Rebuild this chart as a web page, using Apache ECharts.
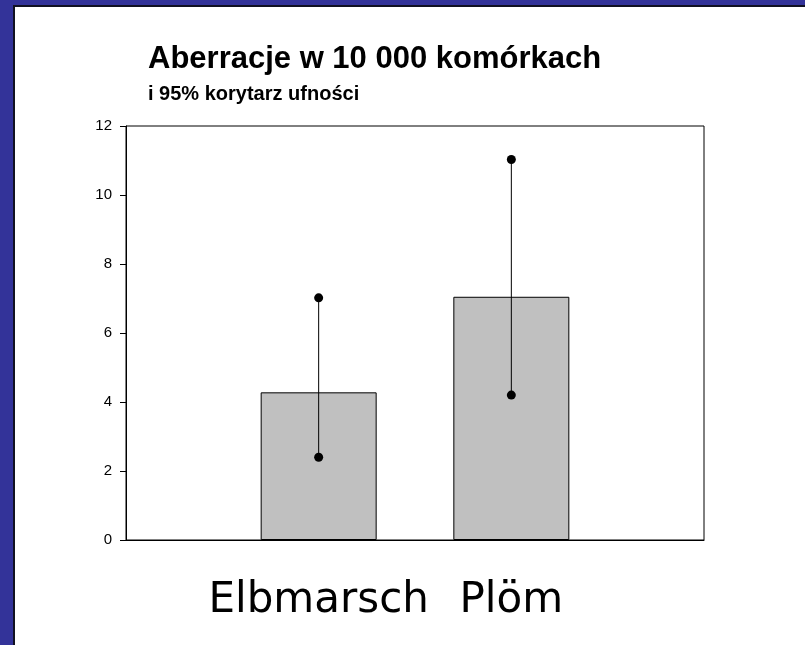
<!DOCTYPE html>
<html>
<head>
<meta charset="utf-8">
<script src="https://cdn.jsdelivr.net/npm/echarts@6/dist/echarts.min.js"></script>
<style>
  html, body { margin: 0; padding: 0; background: #333399; }
  #frame {
    position: absolute;
    left: 13px;
    top: 5px;
    border-left: 2px solid #111122;
    border-top: 2px solid #111122;
    background: #ffffff;
  }
  #chart { width: 790px; height: 638px; }
</style>
</head>
<body>
<div id="frame"><div id="chart"></div></div>
<script>
"use strict";

// empty slots at both ends keep the two bars at 1/3 and 2/3 of the axis
var categories = ["", "Elbmarsch", "Plöm", ""];
var meanValues = [null, 4.28, 7.05, null];
var ciLow = [null, 2.4, 4.2, null];
var ciHigh = [null, 7.02, 11.03, null];
var yTicks = [0, 2, 4, 6, 8, 10, 12];

var chart = echarts.init(document.getElementById("chart"));

var errorData = [];
for (var i = 0; i < categories.length; i++) {
  if (ciLow[i] != null) {
    errorData.push([i, ciLow[i], ciHigh[i]]);
  }
}

chart.setOption({
  animation: false,
  title: {
    text: "Aberracje w 10 000 komórkach",
    subtext: "i 95% korytarz ufności",
    left: 128,
    top: 32,
    itemGap: 9,
    textStyle: {
      fontFamily: "Liberation Sans, Arial, sans-serif",
      fontWeight: "bold",
      fontSize: 31,
      color: "#000",
    },
    subtextStyle: {
      fontFamily: "Liberation Sans, Arial, sans-serif",
      fontWeight: "bold",
      fontSize: 20,
      color: "#000",
    },
  },
  grid: {
    left: 111,
    right: 101,
    top: 119,
    bottom: 105,
    show: true,
    borderColor: "#000",
    borderWidth: 1,
    backgroundColor: "transparent",
  },
  xAxis: {
    type: "category",
    data: categories,
    boundaryGap: false,
    axisLine: { lineStyle: { color: "#000", width: 1 } },
    axisTick: { show: false },
    axisLabel: {
      interval: 0,
      margin: 40,
      color: "#000",
      fontFamily: "DejaVu Sans, sans-serif",
      fontSize: 42,
    },
    splitLine: { show: false },
  },
  yAxis: {
    type: "value",
    min: yTicks[0],
    max: yTicks[yTicks.length - 1],
    interval: 2,
    axisLine: { show: true, lineStyle: { color: "#000", width: 1 } },
    axisTick: { show: true, length: 6, lineStyle: { color: "#000" } },
    axisLabel: {
      margin: 14,
      color: "#000",
      fontFamily: "Liberation Sans, Arial, sans-serif",
      fontSize: 15,
    },
    splitLine: { show: false },
  },
  series: [
    {
      name: "mean",
      type: "bar",
      data: meanValues,
      barWidth: 116,
      itemStyle: {
        color: "#c0c0c0",
        borderColor: "#000",
        borderWidth: 1,
      },
    },
    {
      name: "ci",
      type: "custom",
      data: errorData,
      renderItem: function (params, api) {
        var lo = api.coord([api.value(0), api.value(1)]);
        var hi = api.coord([api.value(0), api.value(2)]);
        return {
          type: "group",
          children: [
            {
              type: "line",
              shape: { x1: lo[0], y1: lo[1], x2: hi[0], y2: hi[1] },
              style: { stroke: "#000", lineWidth: 1 },
            },
            {
              type: "circle",
              shape: { cx: lo[0], cy: lo[1], r: 4.5 },
              style: { fill: "#000" },
            },
            {
              type: "circle",
              shape: { cx: hi[0], cy: hi[1], r: 4.5 },
              style: { fill: "#000" },
            },
          ],
        };
      },
      z: 5,
    },
  ],
});
</script>
</body>
</html>
